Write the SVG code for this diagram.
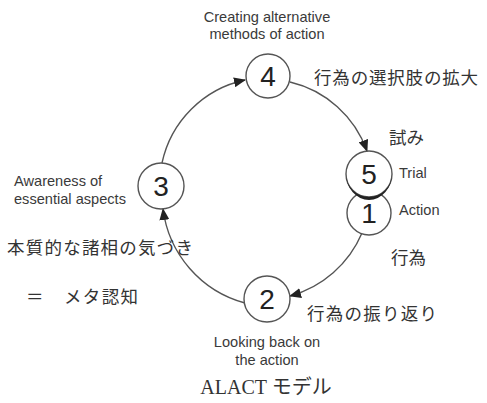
<svg xmlns="http://www.w3.org/2000/svg" width="487" height="403" viewBox="0 0 487 403">
<defs>
<style>
.en{font-family:"Liberation Sans",Arial,sans-serif;font-size:14.6px;fill:#3a3a3a}
.num{font-family:"Liberation Sans",Arial,sans-serif;font-size:28px;fill:#222;text-anchor:middle}
.jp{font-family:"Noto Sans CJK JP",sans-serif;font-size:17.5px;fill:#333}
.node{fill:#fff;stroke:#555;stroke-width:1.4}
.arc{fill:none;stroke:#555;stroke-width:1.4;marker-end:url(#ah)}
</style>
<marker id="ah" viewBox="0 0 12 10" refX="11" refY="5" markerWidth="12" markerHeight="10" markerUnits="userSpaceOnUse" orient="auto">
<path d="M0,0 L12,5 L0,10 z" fill="#222"/>
</marker>
</defs>
<rect width="487" height="403" fill="#fff"/>
<g id="connectors">
<path class="arc" d="M162,163 A108,108 0 0 1 245,80"/>
<path class="arc" d="M290,82 A108,108 0 0 1 367,151"/>
<path class="arc" d="M362,233 A110,110 0 0 1 290,296"/>
<path class="arc" d="M245,303 A112,112 0 0 1 163,209"/>
</g>
<g id="node4">
<circle class="node" cx="268" cy="76" r="22"/>
<text class="num" x="268" y="86">4</text>
</g>
<g id="node3">
<circle class="node" cx="161" cy="186" r="23"/>
<text class="num" x="161" y="196">3</text>
</g>
<g id="node2">
<circle class="node" cx="267" cy="299" r="23"/>
<text class="num" x="267" y="309">2</text>
</g>
<g id="node1">
<circle class="node" cx="369" cy="213" r="22"/>
<text class="num" x="369" y="223">1</text>
</g>
<g id="node5">
<circle class="node" cx="369" cy="174" r="23"/>
<path d="M346,174 A23,26 0 0 0 392,174 A23,23 0 0 1 346,174 z" fill="#222"/>
<text class="num" x="369" y="184">5</text>
</g>
<g id="labels">
<text class="en" x="267" y="22" text-anchor="middle">Creating alternative</text>
<text class="en" x="267" y="39" text-anchor="middle">methods of action</text>
<text class="en" x="399" y="178">Trial</text>
<text class="en" x="399" y="215">Action</text>
<text class="en" x="14" y="186">Awareness of</text>
<text class="en" x="14" y="204">essential aspects</text>
<text class="en" x="267" y="347" text-anchor="middle">Looking back on</text>
<text class="en" x="267" y="365" text-anchor="middle">the action</text>
<text class="jp" x="314" y="84" textLength="164">行為の選択肢の拡大</text>
<text class="jp" x="389" y="144">試み</text>
<text class="jp" x="391" y="264">行為</text>
<text class="jp" x="7" y="254" textLength="186">本質的な諸相の気づき</text>
<text class="jp" x="26" y="303">＝</text>
<text class="jp" x="64" y="303" textLength="74">メタ認知</text>
<text class="jp" x="307" y="320" textLength="130">行為の振り返り</text>
<text x="266" y="394" text-anchor="middle" style="font-family:'Liberation Serif','Noto Sans CJK JP',serif;font-size:20px;fill:#333">ALACT モデル</text>
</g>
</svg>
